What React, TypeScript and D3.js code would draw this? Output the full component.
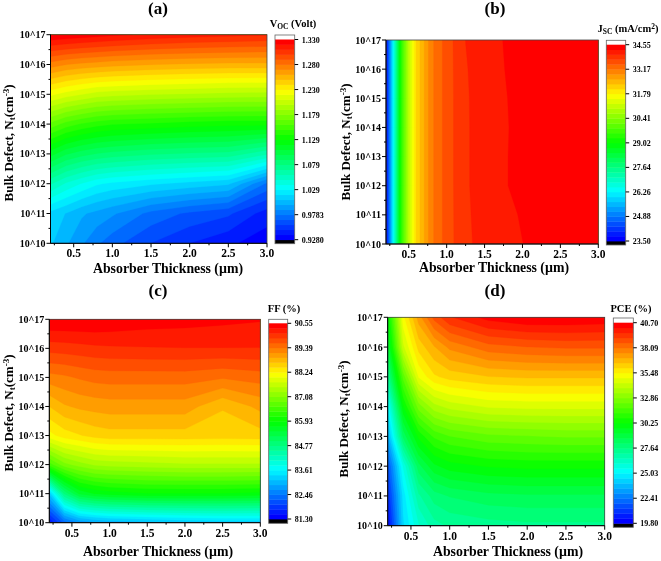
import React from "react";
import * as d3 from "d3";

const thickness = [0.2, 0.4, 0.6, 0.8, 1.0, 1.5, 2.0, 2.5, 3.0];
const thicknessJsc = [0.2, 0.3, 0.4, 0.5, 0.6, 0.8, 1.0, 1.25, 1.5, 2.0, 2.5, 3.0];
const xTicks = [0.5, 1.0, 1.5, 2.0, 2.5, 3.0];
const xMinorTicks = [0.25, 0.75, 1.25, 1.75, 2.25, 2.75];
const exponents = [10, 11, 12, 13, 14, 15, 16, 17];
const yMinorTicks = [10.5, 11.5, 12.5, 13.5, 14.5, 15.5, 16.5];

// rows run from 10^10 upward to 10^17
const vocValues = [
  [1.01, 1.0, 0.99, 0.98, 0.972, 0.958, 0.948, 0.94, 0.932],
  [1.015, 1.008, 1.0, 0.995, 0.99, 0.975, 0.966, 0.96, 0.943],
  [1.06, 1.047, 1.038, 1.03, 1.026, 1.02, 1.015, 1.01, 0.976],
  [1.113, 1.1, 1.093, 1.088, 1.085, 1.08, 1.077, 1.075, 1.06],
  [1.166, 1.155, 1.148, 1.143, 1.14, 1.137, 1.134, 1.132, 1.132],
  [1.222, 1.215, 1.21, 1.205, 1.203, 1.2, 1.198, 1.196, 1.195],
  [1.275, 1.27, 1.267, 1.265, 1.263, 1.26, 1.258, 1.257, 1.257],
  [1.33, 1.328, 1.326, 1.324, 1.322, 1.318, 1.315, 1.313, 1.311],
];
const jscValues = [
  [23.6, 26.4, 29.4, 31.0, 32.1, 33.1, 33.58, 33.95, 34.08, 34.27, 34.45, 34.55],
  [23.6, 26.4, 29.4, 31.0, 32.1, 33.1, 33.58, 33.96, 34.09, 34.3, 34.45, 34.55],
  [23.6, 26.4, 29.4, 31.0, 32.1, 33.1, 33.58, 33.97, 34.1, 34.38, 34.45, 34.55],
  [23.6, 26.4, 29.4, 31.0, 32.1, 33.1, 33.58, 33.97, 34.1, 34.38, 34.45, 34.55],
  [23.6, 26.4, 29.4, 31.0, 32.1, 33.1, 33.58, 33.97, 34.1, 34.37, 34.45, 34.55],
  [23.6, 26.4, 29.4, 31.0, 32.1, 33.1, 33.58, 33.97, 34.11, 34.38, 34.45, 34.55],
  [23.6, 26.4, 29.4, 31.0, 32.1, 33.1, 33.58, 33.98, 34.12, 34.41, 34.45, 34.55],
  [23.6, 26.4, 29.4, 31.0, 32.1, 33.1, 33.58, 34.0, 34.14, 34.42, 34.47, 34.55],
];
const ffValues = [
  [81.5, 82.3, 82.7, 82.85, 82.95, 83.05, 83.15, 83.2, 83.2],
  [83.2, 84.8, 85.5, 85.7, 85.8, 85.9, 85.9, 85.9, 85.85],
  [86.5, 87.0, 87.2, 87.35, 87.4, 87.45, 87.5, 87.5, 87.5],
  [88.15, 88.35, 88.45, 88.55, 88.6, 88.6, 88.6, 88.58, 88.6],
  [88.7, 88.9, 88.98, 89.02, 89.05, 89.05, 89.05, 88.72, 89.0],
  [89.3, 89.35, 89.42, 89.48, 89.5, 89.5, 89.5, 89.42, 89.5],
  [89.95, 89.97, 90.0, 90.03, 90.05, 90.07, 90.08, 90.08, 90.08],
  [90.55, 90.55, 90.55, 90.55, 90.52, 90.45, 90.42, 90.38, 90.34],
];
const pceValues = [
  [20.0, 24.4, 26.0, 26.9, 27.2, 27.4, 27.5, 27.5, 27.5],
  [20.8, 24.7, 27.0, 27.9, 28.2, 28.5, 28.6, 28.6, 28.6],
  [21.6, 25.6, 28.5, 29.6, 30.0, 30.3, 30.4, 30.4, 30.4],
  [23.5, 28.3, 30.4, 31.4, 31.8, 32.2, 32.3, 32.4, 32.4],
  [25.0, 30.2, 32.6, 33.7, 34.1, 34.5, 34.6, 34.6, 34.6],
  [27.3, 32.0, 35.0, 35.9, 36.2, 36.5, 36.6, 36.6, 36.6],
  [29.0, 34.3, 36.2, 37.0, 37.7, 38.4, 38.6, 38.7, 38.7],
  [30.0, 35.3, 37.3, 38.8, 39.6, 40.4, 40.7, 40.7, 40.6],
];

const vocLegend = ["0.9280", "0.9783", "1.029", "1.079", "1.129", "1.179", "1.230", "1.280", "1.330"];
const jscLegend = ["23.50", "24.88", "26.26", "27.64", "29.02", "30.41", "31.79", "33.17", "34.55"];
const ffLegend = ["81.30", "82.46", "83.61", "84.77", "85.93", "87.08", "88.24", "89.39", "90.55"];
const pceLegend = ["19.80", "22.41", "25.03", "27.64", "30.25", "32.86", "35.48", "38.09", "40.70"];

const LEVELS = 40;
const FONT = "'Liberation Serif', 'Times New Roman', serif";
const ramp = d3
  .scaleLinear<string>()
  .domain([0, 0.25, 0.5, 0.75, 1])
  .range(["#0000ff", "#00ffff", "#00ff00", "#ffff00", "#ff0000"]);

type Box = { l: number; r: number; t: number; b: number };
type PanelProps = {
  id: string;
  box: Box;
  legendBox: Box & { white: number; black: number };
  thick: number[];
  values: number[][];
  min: number;
  max: number;
  legend: string[];
  legendTitle: React.ReactNode;
  title: string;
  titlePos: [number, number];
  xTitlePos: [number, number];
  yTitlePos: [number, number];
};

function Panel(p: PanelProps) {
  const { box, legendBox: lb, thick, values, min, max } = p;
  const x = d3.scaleLinear().domain([0.2, 3]).range([box.l, box.r]);
  const y = d3.scaleLinear().domain([10, 17]).range([box.b, box.t]);
  const n = thick.length;
  const m = values.length;
  const idxToThick = d3.scaleLinear().domain(d3.range(n)).range(thick);
  const step = (max - min) / LEVELS;
  const thresholds = d3.range(1, LEVELS).map((k) => min + k * step);
  const contours = d3.contours().size([n, m]).thresholds(thresholds)(values.flat());
  const clamp = (v: number, hi: number) => Math.max(0, Math.min(hi, v - 0.5));
  const line = d3
    .line<number[]>()
    .x((c) => x(idxToThick(clamp(c[0], n - 1))))
    .y((c) => y(10 + clamp(c[1], m - 1)));
  const pathOf = (mp: d3.ContourMultiPolygon) =>
    mp.coordinates.map((poly) => poly.map((ring) => line(ring) + "Z").join("")).join("");
  const legendY = d3.scaleLinear().domain([0, LEVELS]).range([lb.black, lb.white]);
  const clipId = "clip-" + p.id;
  return (
    <g fontFamily={FONT} fontWeight="bold" fill="#000">
      <text x={p.titlePos[0]} y={p.titlePos[1]} textAnchor="middle" fontSize={17}>{p.title}</text>
      <clipPath id={clipId}>
        <rect x={box.l} y={box.t} width={box.r - box.l} height={box.b - box.t} />
      </clipPath>
      <g clipPath={`url(#${clipId})`}>
        <rect x={box.l} y={box.t} width={box.r - box.l} height={box.b - box.t} fill={ramp(0)} />
        {contours.map((c, i) => (
          <path key={i} d={pathOf(c)} fill={ramp((i + 1) / (LEVELS - 1))} stroke={ramp((i + 1) / (LEVELS - 1))} strokeWidth={0.3} />
        ))}
      </g>
      <rect x={box.l} y={box.t} width={box.r - box.l} height={box.b - box.t} fill="none" stroke="#444" strokeWidth={0.8} />
      <line x1={box.l} x2={box.l} y1={box.t} y2={box.b} stroke="#000" strokeWidth={1} />
      <line x1={box.l} x2={box.r} y1={box.b} y2={box.b} stroke="#000" strokeWidth={1} />
      {xTicks.map((t) => (
        <g key={t}>
          <line x1={x(t)} x2={x(t)} y1={box.b} y2={box.b + 4} stroke="#000" />
          <text x={x(t)} y={box.b + 14} textAnchor="middle" fontSize={11.5}>{t.toFixed(1)}</text>
        </g>
      ))}
      {xMinorTicks.map((t) => (
        <line key={t} x1={x(t)} x2={x(t)} y1={box.b} y2={box.b + 2} stroke="#000" />
      ))}
      {exponents.map((e) => (
        <g key={e}>
          <line x1={box.l - 4} x2={box.l} y1={y(e)} y2={y(e)} stroke="#000" />
          <text x={box.l - 5} y={y(e) + 3.5} textAnchor="end" fontSize={10}>{`10^${e}`}</text>
        </g>
      ))}
      {yMinorTicks.map((e) => (
        <line key={e} x1={box.l - 2} x2={box.l} y1={y(e)} y2={y(e)} stroke="#000" />
      ))}
      <text x={p.xTitlePos[0]} y={p.xTitlePos[1]} textAnchor="middle" fontSize={13.8}>Absorber Thickness (µm)</text>
      <text transform={`translate(${p.yTitlePos[0]},${p.yTitlePos[1]}) rotate(-90)`} textAnchor="middle" fontSize={13}>
        Bulk Defect, N<tspan fontSize={9} dy={2}>t</tspan><tspan dy={-2}>(cm</tspan><tspan fontSize={9} dy={-4}>-3</tspan><tspan dy={4}>)</tspan>
      </text>
      {/* legend */}
      <rect x={lb.l} y={lb.t} width={lb.r - lb.l} height={lb.b - lb.t} fill="#fff" />
      <rect x={lb.l} y={lb.black} width={lb.r - lb.l} height={lb.b - lb.black} fill="#000" />
      {d3.range(LEVELS).map((k) => (
        <rect
          key={k}
          x={lb.l}
          y={legendY(k + 1)}
          width={lb.r - lb.l}
          height={legendY(k) - legendY(k + 1) + 0.4}
          fill={ramp(k / (LEVELS - 1))}
        />
      ))}
      <rect x={lb.l} y={lb.t} width={lb.r - lb.l} height={lb.b - lb.t} fill="none" stroke="#666" strokeWidth={0.8} />
      {p.legend.map((label, i) => {
        const ty = legendY((i * LEVELS) / (p.legend.length - 1));
        return (
          <g key={label}>
            <line x1={lb.r} x2={lb.r + 3.5} y1={ty} y2={ty} stroke="#000" />
            <text x={lb.r + 7} y={ty + 3} fontSize={8}>{label}</text>
          </g>
        );
      })}
      {p.legendTitle}
    </g>
  );
}

export default function App() {
  return (
    <svg width={661} height={561} style={{ position: "absolute", left: 0, top: 0, background: "#fff", filter: "blur(0.35px)" }}>
      <Panel
        id="a"
        box={{ l: 50.5, r: 267, t: 34.7, b: 243.3 }}
        legendBox={{ l: 275, r: 294.7, t: 35, b: 243.7, white: 39.5, black: 239.7 }}
        thick={thickness}
        values={vocValues}
        min={0.928}
        max={1.33}
        legend={vocLegend}
        title="(a)"
        titlePos={[158, 14]}
        xTitlePos={[168, 273]}
        yTitlePos={[13, 143]}
        legendTitle={
          <text x={293} y={27} textAnchor="middle" fontSize={10.5}>
            V<tspan fontSize={7.5} dy={2}>OC</tspan><tspan dy={-2}> (Volt)</tspan>
          </text>
        }
      />
      <Panel
        id="b"
        box={{ l: 386, r: 598.3, t: 40, b: 244 }}
        legendBox={{ l: 606.3, r: 625.7, t: 40.3, b: 245, white: 44.7, black: 241 }}
        thick={thicknessJsc}
        values={jscValues}
        min={23.5}
        max={34.55}
        legend={jscLegend}
        title="(b)"
        titlePos={[495, 14]}
        xTitlePos={[494, 272]}
        yTitlePos={[350, 142]}
        legendTitle={
          <text x={628} y={32} textAnchor="middle" fontSize={10.5}>
            J<tspan fontSize={7.5} dy={2}>SC</tspan><tspan dy={-2}> (mA/cm</tspan><tspan fontSize={7.5} dy={-3}>2</tspan><tspan dy={3}>)</tspan>
          </text>
        }
      />
      <Panel
        id="c"
        box={{ l: 49.3, r: 260.3, t: 319.3, b: 522.7 }}
        legendBox={{ l: 268.7, r: 287.7, t: 319.3, b: 523.3, white: 323.3, black: 519 }}
        thick={thickness}
        values={ffValues}
        min={81.3}
        max={90.55}
        legend={ffLegend}
        title="(c)"
        titlePos={[158, 296]}
        xTitlePos={[158, 556]}
        yTitlePos={[13, 413]}
        legendTitle={
          <text x={284} y={312} textAnchor="middle" fontSize={10.5}>FF (%)</text>
        }
      />
      <Panel
        id="d"
        box={{ l: 387.7, r: 604.7, t: 317.3, b: 525.7 }}
        legendBox={{ l: 613.3, r: 633.3, t: 318, b: 527.3, white: 322.7, black: 523.3 }}
        thick={thickness}
        values={pceValues}
        min={19.8}
        max={40.7}
        legend={pceLegend}
        title="(d)"
        titlePos={[495, 296]}
        xTitlePos={[508, 556]}
        yTitlePos={[348, 419]}
        legendTitle={
          <text x={631} y={312} textAnchor="middle" fontSize={10.5}>PCE (%)</text>
        }
      />
    </svg>
  );
}
